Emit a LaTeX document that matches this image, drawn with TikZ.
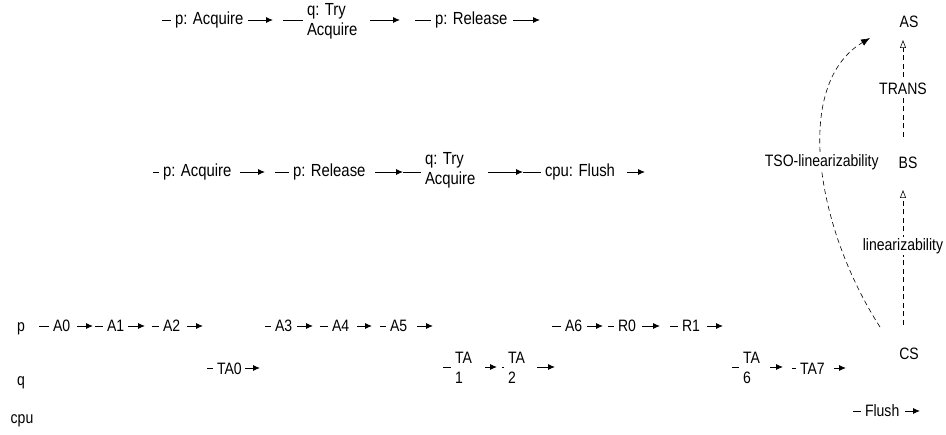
\documentclass[tikz,border=0pt]{standalone}
\usepackage{fontspec}
\setmainfont{Liberation Sans}[FakeStretch=0.85]
\usetikzlibrary{arrows.meta}
\newcommand\mkev[9]{% name, style, stub start x, text left x, arrow start x, arrow end x, line y, node y, text
  \node[#2] (#1) at (#4-4,#8) {#9};
  \coordinate (#1s) at (#3,#7);
  \coordinate (#1a) at (#5,#7);
  \coordinate (#1e) at (#6,#7);
  \draw[stubline] (#1s) -- (#1s -| #1.west);
  \draw[evarrow] (#1a) -- (#1e);
}
\begin{document}
\begin{tikzpicture}[x=1pt,y=-1pt,
  big/.style={font=\fontsize{17.5}{20}\selectfont, inner sep=0pt, outer xsep=4pt, anchor=west, align=left},
  small/.style={font=\fontsize{16.5}{20}\selectfont, inner sep=0pt, outer xsep=4pt, anchor=west, align=left},
  rowlab/.style={font=\fontsize{16.5}{18}\selectfont, inner sep=0pt, anchor=base},
  side/.style={font=\fontsize{16.5}{18}\selectfont, inner sep=1pt},
  stubline/.style={line width=0.8pt},
  evarrow/.style={line width=0.9pt, -{Latex[length=7pt,width=6pt]}},
  rel/.style={line width=0.6pt, dash pattern=on 5pt off 3.5pt},
  open/.style={rel, -{Triangle[open,length=8pt,width=6pt,line width=0.6pt]}},
  filledhead/.style={rel, -{Latex[length=9pt,width=7pt]}},
  edgelab/.style={font=\fontsize{16.5}{18}\selectfont, fill=white, inner sep=1.5pt}]
\useasboundingbox (0,0) rectangle (946,435);
% top row
\mkev{na}{big}{162}{175}{248}{273}{20}{20}{p: Acquire}
\mkev{nb}{big}{283}{307}{370}{400}{20}{21}{q: Try\\Acquire}
\mkev{nc}{big}{415}{435}{513}{540}{20}{20}{p: Release}
% middle row
\mkev{ma}{big}{153}{163}{240}{265}{172}{172}{p: Acquire}
\mkev{mb}{big}{275}{293}{375}{403}{172}{172}{p: Release}
\mkev{mc}{big}{403}{425}{488}{523}{172}{170}{q: Try\\Acquire}
\mkev{md}{big}{523}{545}{627}{645}{172}{172}{cpu: Flush}
% row labels
\node[rowlab] (lp) at (21,332) {p};
\node[rowlab] (lq) at (21,386) {q};
\node[rowlab] (lc) at (22,424) {cpu};
% p row
\mkev{ea}{small}{39}{53}{77}{93}{326}{326}{A0}
\mkev{eb}{small}{95}{107}{128}{145}{326}{326}{A1}
\mkev{ec}{small}{152}{163}{187}{203}{326}{326}{A2}
\mkev{ed}{small}{265}{275}{297}{313}{326}{326}{A3}
\mkev{ee}{small}{320}{332}{357}{372}{326}{326}{A4}
\mkev{ef}{small}{380}{390}{417}{433}{326}{326}{A5}
\mkev{eg}{small}{552}{565}{587}{603}{326}{326}{A6}
\mkev{eh}{small}{608}{618}{642}{660}{326}{326}{R0}
\mkev{ei}{small}{670}{682}{707}{723}{326}{326}{R1}
% q row
\mkev{ta}{small}{207}{217}{245}{260}{368}{369}{TA0}
\mkev{tb}{small}{443}{455}{485}{497}{367}{368}{TA\\1}
\mkev{tc}{small}{502}{508}{537}{555}{367}{368}{TA\\2}
\mkev{td}{small}{732}{743}{770}{783}{367}{368}{TA\\6}
\mkev{te}{small}{792}{800}{834}{846}{368}{369}{TA7}
% cpu row
\mkev{fa}{small}{853}{865}{905}{920}{411}{411}{Flush}
% specifications
\node[side] (AS) at (909,22) {AS};
\node[side] (BS) at (908,163) {BS};
\node[side] (CS) at (909,354) {CS};
\coordinate (csTop) at (903,325);
\coordinate (bsBot) at (903,190);
\coordinate (bsTop) at (903,137);
\coordinate (asBot) at (903,40);
\coordinate (tsoS) at (880,327);
\coordinate (tsoE) at (870,38);
\draw[open] (csTop) -- node[edgelab, pos=0.585] (lin) {linearizability} (bsBot);
\draw[open] (bsTop) -- node[edgelab, pos=0.5] (tr) {TRANS} (asBot);
\draw[filledhead] (tsoS) .. controls (815,226) and (793,84) .. node[edgelab, pos=0.5] (tso) {TSO-linearizability} (tsoE);
\end{tikzpicture}
\end{document}
